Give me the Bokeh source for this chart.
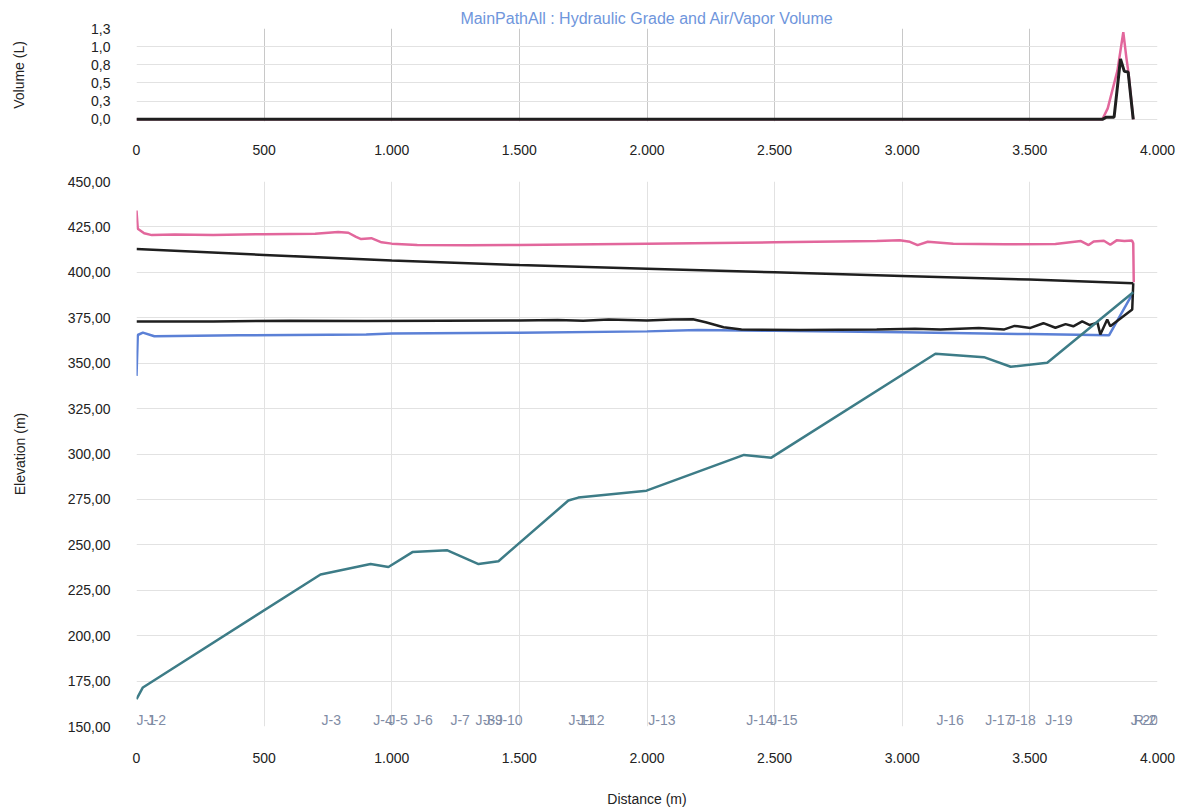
from bokeh.plotting import figure
from bokeh.layouts import column
from bokeh.models import FixedTicker, Range1d
from bokeh.core.properties import value
from bokeh.embed import file_html
from bokeh.resources import INLINE

# ---- profile data (distance in m) ----
ground_dist = [0, 25, 721, 917, 987, 1081, 1218, 1340, 1418, 1692, 1731, 1998, 2380, 2487, 3130, 3320, 3425, 3568, 3905]
ground_elev = [165, 171.5, 233.7, 239.4, 237.8, 246, 247, 239.4, 241, 274.4, 276, 279.8, 299.5, 298, 355.2, 353.3, 348, 350.2, 389]

max_dist = [0, 5, 30, 60, 150, 300, 500, 700, 790, 830, 860, 880, 920, 960, 1000, 1100, 1300, 1500,
            2000, 2500, 2900, 2990, 3030, 3060, 3100, 3200, 3400, 3600, 3700, 3730, 3750, 3790, 3815,
            3840, 3870, 3900, 3905, 3907]
max_hgl = [434, 424, 421.5, 420.5, 420.8, 420.5, 421, 421.3, 422.2, 421.8, 419.5, 418.3, 418.8, 416.5,
           415.8, 415, 414.9, 415, 415.8, 416.5, 417.2, 417.7, 416.8, 415, 416.8, 415.8, 415.5, 415.6,
           417.2, 415, 417, 417.4, 415.2, 417.6, 417.2, 417.5, 416, 394.5]

steady_dist = [0, 500, 1000, 1500, 2000, 2500, 3000, 3500, 3905]
steady_hgl = [412.8, 409.6, 406.5, 404, 402, 400, 398, 396, 394]

low_dist = [0, 300, 600, 900, 1200, 1500, 1650, 1750, 1850, 2000, 2100, 2180, 2230, 2300, 2370, 2600,
            2900, 3050, 3150, 3300, 3400, 3440, 3502, 3553, 3600, 3640, 3670, 3705, 3735, 3765, 3776,
            3803, 3815, 3901, 3905]
low_hgl = [373, 373, 373.3, 373.2, 373.4, 373.5, 373.8, 373.4, 374, 373.5, 374, 374.2, 372.5, 369.8,
           368.5, 368.3, 368.5, 369, 368.6, 369.3, 368.6, 370.5, 369.4, 372, 369.5, 371.5, 370.3, 373,
           371, 372.3, 365.8, 374, 370.3, 379.5, 394]

min_dist = [0, 5, 25, 70, 400, 900, 1000, 1500, 2000, 2200, 2500, 3000, 3500, 3810, 3905]
min_hgl = [343, 365.5, 366.8, 364.8, 365.3, 365.8, 366.3, 366.8, 367.5, 368.2, 367.8, 367, 366, 365.3, 389]

# ---- air / vapor volume (L) ----
vol_dist_a = [0, 3784, 3805, 3843, 3866, 3878, 3886, 3905]
vol_a = [0, 0, 0.15, 0.67, 1.2, 0.85, 0.65, 0]
vol_dist_b = [0, 3784, 3800, 3830, 3855, 3870, 3885, 3905]
vol_b = [0, 0, 0.03, 0.03, 0.83, 0.66, 0.65, 0]

# ---- node labels ----
node_names = ["J-1", "J-2", "J-3", "J-4", "J-5", "J-6", "J-7", "J-8", "J-9", "J-10", "J-11", "J-12",
              "J-13", "J-14", "J-15", "J-16", "J-17", "J-18", "J-19", "J-20", "R-2"]
node_dist = [0, 40, 725, 928, 987, 1085, 1230, 1328, 1359, 1406, 1692, 1727, 2005, 2389, 2483,
             3134, 3325, 3416, 3560, 3895, 3907]

# ---- tick labels ----
x_ticks = [0, 500, 1000, 1500, 2000, 2500, 3000, 3500, 4000]
x_labels = ["0", "500", "1.000", "1.500", "2.000", "2.500", "3.000", "3.500", "4.000"]
elev_ticks = [150, 175, 200, 225, 250, 275, 300, 325, 350, 375, 400, 425, 450]
elev_labels = ["150,00", "175,00", "200,00", "225,00", "250,00", "275,00", "300,00", "325,00",
               "350,00", "375,00", "400,00", "425,00", "450,00"]
vol_ticks = [0, 0.25, 0.5, 0.75, 1.0, 1.25]
vol_labels = ["0,0", "0,3", "0,5", "0,8", "1,0", "1,3"]

FONT = "Liberation Sans"
PINK = "#e2679c"
BLUE = "#5b80d6"
TEAL = "#3d7c87"
BLACK = "#1f1f1f"
GRID = "#e2e2e2"


def style_axes(p):
    for ax in (p.xaxis[0], p.yaxis[0]):
        ax.axis_line_color = None
        ax.major_tick_line_color = None
        ax.minor_tick_line_color = None
        ax.major_label_text_font = FONT
        ax.major_label_text_font_size = "14px"
        ax.major_label_text_color = "#222222"
        ax.axis_label_text_font = FONT
        ax.axis_label_text_font_size = "14px"
        ax.axis_label_text_font_style = "normal"
        ax.axis_label_text_color = "#222222"
    p.xaxis.ticker = FixedTicker(ticks=x_ticks)
    p.xaxis.major_label_overrides = dict(zip(x_ticks, x_labels))
    p.xgrid.ticker = FixedTicker(ticks=x_ticks)
    p.grid.grid_line_color = GRID
    p.grid.grid_line_width = 1
    p.outline_line_color = None
    p.background_fill_color = "white"
    p.border_fill_color = "white"


# ---- volume panel ----
pv = figure(width=1183, height=160, output_backend="svg", toolbar_location=None,
            x_range=Range1d(0, 4000), y_range=Range1d(-0.03, 1.25),
            min_border_left=136, min_border_right=26, min_border_top=28, min_border_bottom=39,
            title="MainPathAll : Hydraulic Grade and Air/Vapor Volume")
pv.title.align = "center"
pv.title.text_font = FONT
pv.title.text_font_size = "16px"
pv.title.text_font_style = "normal"
pv.title.text_color = "#6f96dc"
pv.title.standoff = 4
style_axes(pv)
pv.yaxis.ticker = FixedTicker(ticks=vol_ticks)
pv.yaxis.major_label_overrides = dict(zip(vol_ticks, vol_labels))
pv.ygrid.ticker = FixedTicker(ticks=vol_ticks)
pv.yaxis.axis_label = "Volume (L)"
pv.yaxis.major_label_standoff = 20
pv.yaxis.axis_label_standoff = 61
pv.xaxis.major_label_standoff = 17
pv.xgrid.grid_line_color = "#c8c8c8"

pv.line(vol_dist_a, vol_a, line_color=PINK, line_width=2.5)
pv.line(vol_dist_b, vol_b, line_color=BLACK, line_width=3)

# ---- elevation profile panel ----
pe = figure(width=1183, height=649, output_backend="svg", toolbar_location=None,
            x_range=Range1d(0, 4000), y_range=Range1d(150, 450),
            min_border_left=136, min_border_right=26, min_border_top=21, min_border_bottom=80)
style_axes(pe)
pe.yaxis.ticker = FixedTicker(ticks=elev_ticks)
pe.yaxis.major_label_overrides = dict(zip(elev_ticks, elev_labels))
pe.ygrid.ticker = FixedTicker(ticks=elev_ticks)
pe.yaxis.axis_label = "Elevation (m)"
pe.xaxis.axis_label = "Distance (m)"
pe.yaxis.major_label_standoff = 20
pe.yaxis.axis_label_standoff = 37
pe.xaxis.major_label_standoff = 20
pe.xaxis.axis_label_standoff = 25

pe.line(max_dist, max_hgl, line_color=PINK, line_width=2.5)
pe.line(steady_dist, steady_hgl, line_color=BLACK, line_width=2.5)
pe.line(min_dist, min_hgl, line_color=BLUE, line_width=2.5)
pe.line(low_dist, low_hgl, line_color=BLACK, line_width=2.5)
pe.line(ground_dist, ground_elev, line_color=TEAL, line_width=2.5)

label_level = 153.4
pe.text(x=node_dist, y=[label_level] * len(node_dist), text=node_names,
        text_align="left", text_baseline="middle",
        text_font=value(FONT), text_font_size="14px", text_color="#7f8ca5")

layout = column(pv, pe, spacing=0)
open("out.html", "w").write(file_html(layout, INLINE))
